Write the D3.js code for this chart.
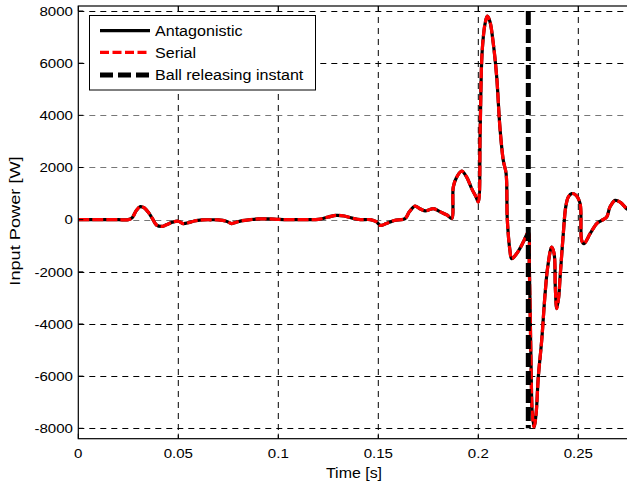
<!DOCTYPE html>
<html>
<head>
<meta charset="utf-8">
<script src="https://cdn.jsdelivr.net/npm/d3@7"></script>
<style>
  body { margin: 0; background: #fff; }
  text { font-family: "Liberation Sans", Arial, sans-serif; font-size: 13px; fill: #000; }
</style>
</head>
<body>
<div id="chart"></div>
<script>
(function () {
    'use strict';

    // time axis [s] and input power [W]
    var time = [0, 0.01, 0.02, 0.025, 0.027, 0.029, 0.031, 0.033, 0.035, 0.037, 0.039, 0.0417, 0.044, 0.047,
        0.05, 0.0524, 0.055, 0.058, 0.062, 0.066, 0.07, 0.074, 0.0767, 0.079, 0.082, 0.086, 0.09, 0.095,
        0.1, 0.105, 0.11, 0.115, 0.12, 0.125, 0.129, 0.133, 0.137, 0.141, 0.146, 0.149, 0.151, 0.154,
        0.158, 0.1634, 0.1655, 0.1684, 0.1705, 0.1734, 0.1755, 0.1775, 0.181, 0.1845, 0.1867, 0.1875,
        0.1892, 0.1917, 0.1942, 0.1967, 0.1989, 0.2, 0.2009, 0.2017, 0.2025, 0.2034, 0.2045, 0.2058,
        0.2075, 0.2092, 0.2108, 0.2125, 0.2139, 0.2145, 0.2158, 0.2167, 0.2192, 0.2225, 0.225, 0.2255,
        0.2259, 0.2264, 0.227, 0.2279, 0.2289, 0.23, 0.2317, 0.2334, 0.2347, 0.2367, 0.2379, 0.2385,
        0.2392, 0.2402, 0.2409, 0.2425, 0.2437, 0.245, 0.2467, 0.2489, 0.2509, 0.2517, 0.2528, 0.2559,
        0.2592, 0.2617, 0.2642, 0.2658, 0.2684, 0.2709, 0.2742, 0.275];

    var antagonistic = [0, 0, 0, 0, 80, 350, 500, 450, 280, 50, -200, -260, -200, -100,
        -60, -150, -120, -50, -10, -5, -10, -60, -150, -100, -40, 0, 30, 30,
        10, 0, 0, 0, 10, 100, 165, 140, 60, 0, 0, -80, -220, -150,
        -30, 40, 300, 520, 430, 340, 380, 420, 300, 170, 40, 1250,
        1630, 1860, 1630, 1190, 870, 675, 3300, 6100, 7000, 7520, 7800, 7600,
        6750, 5470, 3550, 2270, 1770, 0, -1170, -1500, -1300, -860, -475, -1820,
        -3350, -5650, -7440, -7950, -7440, -6030, -4630, -2840, -1820, -1050, -1300, -2580,
        -3410, -2970, -2200, -540, 480, 870, 1000, 930, 610, -800, -920, -540,
        -150, -30, 100, 480, 740, 670, 420, 380];

    var serial = [0, 0, 0, 0, 80, 350, 500, 450, 280, 50, -200, -260, -200, -100,
        -60, -150, -120, -50, -10, -5, -10, -60, -150, -100, -40, 0, 30, 30,
        10, 0, 0, 0, 10, 100, 165, 140, 60, 0, 0, -80, -220, -150,
        -30, 40, 300, 520, 430, 340, 380, 420, 300, 170, 40, 1250,
        1630, 1860, 1630, 1190, 870, 675, 3300, 6100, 7000, 7520, 7800, 7600,
        6750, 5470, 3550, 2270, 1770, 0, -1170, -1500, -1300, -860, -475, -1820,
        -3350, -5650, -7440, -7950, -7440, -6030, -4630, -2840, -1820, -1050, -1300, -2580,
        -3410, -2970, -2200, -540, 480, 870, 1000, 930, 610, -800, -920, -540,
        -150, -30, 100, 480, 740, 670, 420, 380];

    var releaseTime = 0.225;
    var xTicks = [0, 0.05, 0.1, 0.15, 0.2, 0.25];
    var yTicks = [-8000, -6000, -4000, -2000, 0, 2000, 4000, 6000, 8000];
    var legendLabels = ['Antagonistic', 'Serial', 'Ball releasing instant'];

    var width = 627;
    var height = 484;
    var left = 78.3, right = 628.3, top = 6, bottom = 438.7;

    var svg = d3.select('#chart').append('svg')
        .attr('width', width)
        .attr('height', height);

    var x = d3.scaleLinear().domain([0, 0.275]).range([left, right]);
    var y = d3.scaleLinear().domain([-8000, 8000]).range([428.3, 11]);

    // text in the figure is rendered wide, so stretch it along its baseline
    var putText = function (parent, px, py, str, size, sx, anchor, rot) {
        return parent.append('text')
            .attr('transform', 'translate(' + px + ',' + py + ')' + (rot ? ' rotate(' + rot + ')' : '') + ' scale(' + sx + ',1)')
            .attr('text-anchor', anchor || 'start')
            .style('font-size', size + 'px')
            .text(str);
    };

    // grid
    svg.append('g').selectAll('line')
        .data(xTicks.slice(1))
        .enter().append('line')
        .attr('x1', function (d) { return x(d); })
        .attr('x2', function (d) { return x(d); })
        .attr('y1', top).attr('y2', bottom)
        .attr('stroke', '#000').attr('stroke-width', 1)
        .attr('stroke-dasharray', '6,5');

    svg.append('g').selectAll('line')
        .data(yTicks)
        .enter().append('line')
        .attr('x1', left).attr('x2', right)
        .attr('y1', function (d) { return Math.round(y(d)) + 0.5; })
        .attr('y2', function (d) { return Math.round(y(d)) + 0.5; })
        .attr('stroke', function (d) { return (d >= 0 && d <= 4000) ? '#777' : '#000'; })
        .attr('stroke-width', 1)
        .attr('stroke-dasharray', '6,5');

    // curves
    var line = d3.line()
        .x(function (d) { return x(d[0]); })
        .y(function (d) { return y(d[1]); })
        .curve(d3.curveCatmullRom.alpha(0.5));

    svg.append('path')
        .datum(d3.zip(time, antagonistic))
        .attr('d', line)
        .attr('fill', 'none')
        .attr('stroke', '#000')
        .attr('stroke-width', 3.2)
        .attr('stroke-linejoin', 'round');

    svg.append('path')
        .datum(d3.zip(time, serial))
        .attr('d', line)
        .attr('fill', 'none')
        .attr('stroke', '#f00')
        .attr('stroke-width', 3.2)
        .attr('stroke-dasharray', '11,3');

    // ball releasing instant
    svg.append('line')
        .attr('x1', x(releaseTime)).attr('x2', x(releaseTime))
        .attr('y1', y(8000)).attr('y2', y(-8000))
        .attr('stroke', '#000')
        .attr('stroke-width', 5)
        .attr('stroke-dasharray', '14,4');

    // axes box
    svg.append('rect')
        .attr('x', left).attr('y', top)
        .attr('width', right - left).attr('height', bottom - top)
        .attr('fill', 'none').attr('stroke', '#000').attr('stroke-width', 1.2);

    var ticks = svg.append('g').attr('stroke', '#000').attr('stroke-width', 1);
    xTicks.forEach(function (t) {
        ticks.append('line').attr('x1', x(t)).attr('x2', x(t)).attr('y1', bottom).attr('y2', bottom - 5);
        ticks.append('line').attr('x1', x(t)).attr('x2', x(t)).attr('y1', top).attr('y2', top + 5);
    });
    yTicks.forEach(function (t) {
        ticks.append('line').attr('x1', left).attr('x2', left + 5).attr('y1', y(t)).attr('y2', y(t));
    });

    var labels = svg.append('g');
    xTicks.forEach(function (t) {
        putText(labels, x(t), 458, d3.format('~g')(t), 13, 1.16, 'middle');
    });
    yTicks.forEach(function (t) {
        putText(labels, 73, y(t) + 4.7, String(t), 13, 1.16, 'end');
    });

    putText(svg, 354, 478, 'Time [s]', 14, 1.14, 'middle');
    putText(svg, 19.5, 221, 'Input Power [W]', 14, 1.3, 'middle', -90);

    // legend
    var legend = svg.append('g');
    legend.append('rect')
        .attr('x', 89.5).attr('y', 15.5)
        .attr('width', 226).attr('height', 74.5)
        .attr('fill', '#fff').attr('stroke', '#000').attr('stroke-width', 1);

    var rowY = [30.7, 52.3, 75];
    var styles = [
        { color: '#000', width: 3.2, dash: null },
        { color: '#f00', width: 3.2, dash: '9,3.5' },
        { color: '#000', width: 5, dash: '13,5' }
    ];
    legendLabels.forEach(function (label, i) {
        legend.append('line')
            .attr('x1', 100).attr('x2', 150)
            .attr('y1', rowY[i]).attr('y2', rowY[i])
            .attr('stroke', styles[i].color)
            .attr('stroke-width', styles[i].width)
            .attr('stroke-dasharray', styles[i].dash);
        putText(legend, 155, rowY[i] + 5.2, label, 14.5, 1.11, 'start');
    });
})();
</script>
</body>
</html>
